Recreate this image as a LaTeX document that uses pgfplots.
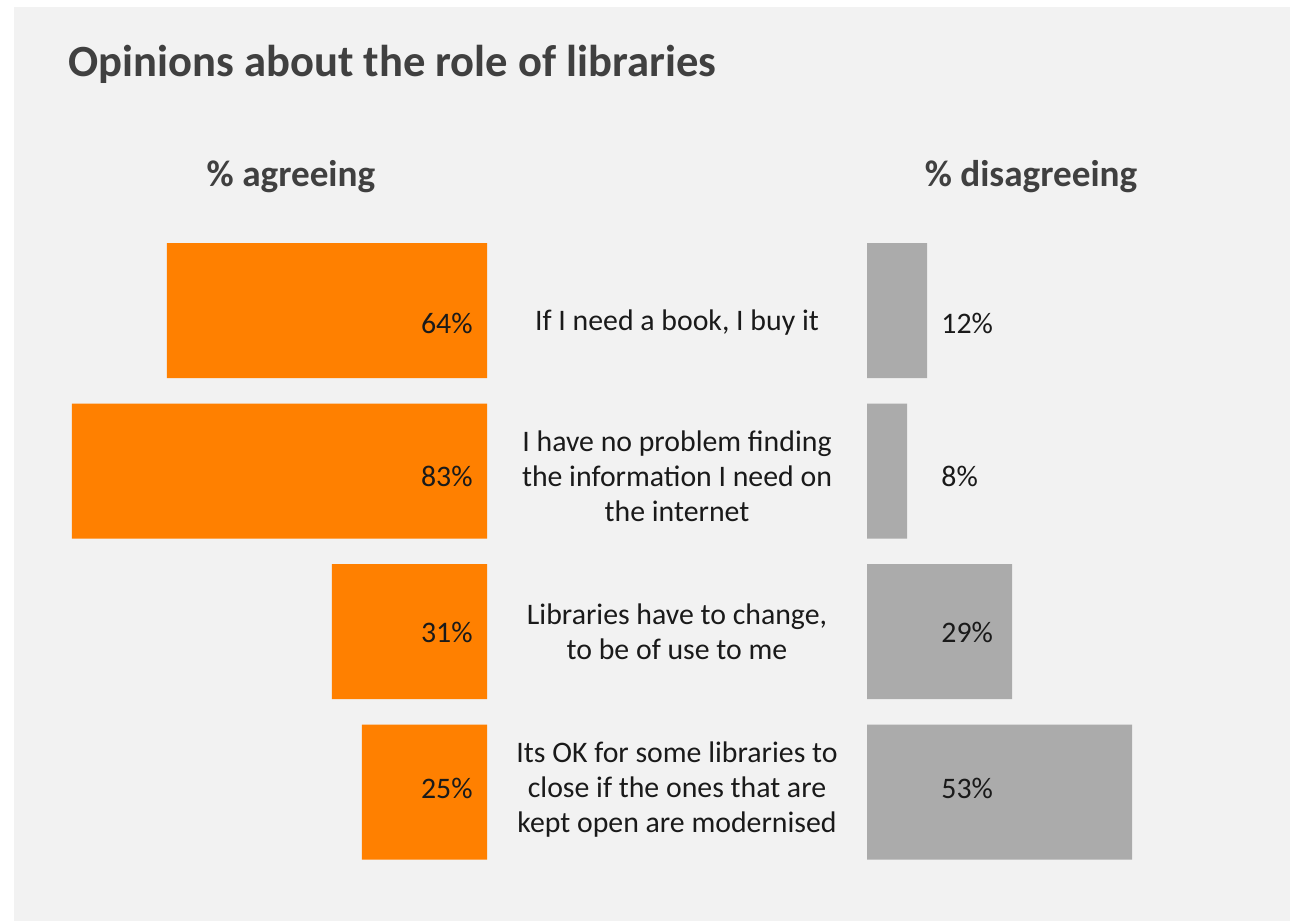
\documentclass[border=0pt]{standalone}
\usepackage{pgfplots}
\pgfplotsset{compat=1.18}
\usepackage{fontspec}
\setmainfont{Carlito}
\definecolor{bgpanel}{HTML}{F2F2F2}
\definecolor{agree}{HTML}{FF8000}
\definecolor{disagree}{HTML}{ABABAB}
\definecolor{titlec}{HTML}{404040}
\definecolor{textc}{HTML}{1A1A1A}
\begin{document}
\begin{tikzpicture}
\path[use as bounding box, fill=white] (0,0) rectangle (645pt,461pt);
\fill[bgpanel] (7pt,0.5pt) rectangle (645pt,457.5pt);
\node[anchor=base west, font=\fontsize{22.3}{26}\selectfont\bfseries, text=titlec, inner sep=0pt] at (34pt,422.5pt) {Opinions about the role of libraries};
\node[anchor=base, font=\fontsize{18.6}{22}\selectfont\bfseries, text=titlec, inner sep=0pt] at (145.5pt,367.5pt) {\% agreeing};
\node[anchor=base, font=\fontsize{18.6}{22}\selectfont\bfseries, text=titlec, inner sep=0pt] at (515.5pt,367.5pt) {\% disagreeing};
\begin{axis}[
  at={(243.5pt,24.875pt)}, anchor=south east,
  scale only axis, width=225pt, height=321pt,
  xmin=0, xmax=90, ymin=0.5, ymax=4.5,
  x dir=reverse, hide axis, clip=false,
  /pgf/number format/assume math mode=true,
]
\addplot[xbar, bar width=67.5pt, fill=agree, draw=none] coordinates {(64,4) (83,3) (31,2) (25,1)};
\addplot[draw=none, mark=none, point meta=explicit,
  nodes near coords={\pgfmathprintnumber{\pgfplotspointmeta}\%},
  every node near coord/.style={anchor=east, xshift=-7pt, text=textc, font=\fontsize{14.9}{18}\selectfont, inner sep=0pt}]
  coordinates {(0,3.922) [64] (0,2.969) [83] (0,1.997) [31] (0,1.022) [25]};
\begin{scope}[every node/.style={align=center, text=textc, font=\fontsize{14.9}{17.5}\selectfont}]
\node at (axis cs:-38,3.922) {If I need a book, I buy it};
\node at (axis cs:-38,2.969) {I have no problem finding\\the information I need on\\the internet};
\node at (axis cs:-38,1.997) {Libraries have to change,\\to be of use to me};
\node at (axis cs:-38,1.015) {Its OK for some libraries to\\close if the ones that are\\kept open are modernised};
\end{scope}
\end{axis}
\begin{axis}[
  at={(433.5pt,24.875pt)}, anchor=south west,
  scale only axis, width=150pt, height=321pt,
  xmin=0, xmax=60, ymin=0.5, ymax=4.5,
  hide axis, clip=false,
  /pgf/number format/assume math mode=true,
]
\addplot[xbar, bar width=67.5pt, fill=disagree, draw=none] coordinates {(12,4) (8,3) (29,2) (53,1)};
\addplot[draw=none, mark=none, point meta=explicit,
  nodes near coords={\pgfmathprintnumber{\pgfplotspointmeta}\%},
  every node near coord/.style={anchor=west, xshift=37pt, text=textc, font=\fontsize{14.9}{18}\selectfont, inner sep=0pt}]
  coordinates {(0,3.922) [12] (0,2.969) [8] (0,1.997) [29] (0,1.022) [53]};
\end{axis}
\end{tikzpicture}
\end{document}
